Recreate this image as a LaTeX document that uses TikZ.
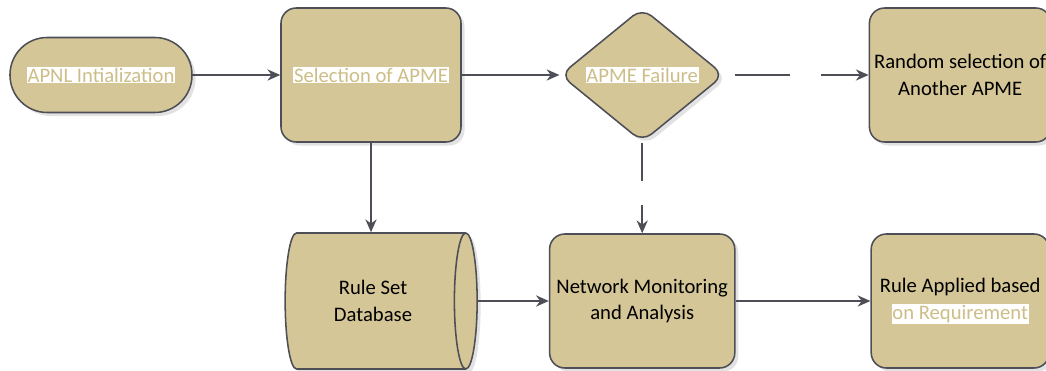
\documentclass[tikz,border=0pt]{standalone}
\usepackage{fontspec}
\setmainfont{Carlito}
\usetikzlibrary{shapes.geometric,arrows.meta,positioning,shadows}

\definecolor{khaki}{RGB}{212,198,150}
\definecolor{edgegray}{RGB}{78,78,86}
\definecolor{paletext}{RGB}{205,190,136}

% pale text on a white strip
\newcommand{\hltext}[1]{{\setlength{\fboxsep}{0.6pt}\colorbox{white}{\textcolor{paletext}{#1}}}}

\tikzstyle{base} = [draw=edgegray, line width=1.1pt, fill=khaki, align=center, font=\fontsize{14.7}{19}\selectfont,
  drop shadow={fill=gray!45, shadow xshift=2.5pt, shadow yshift=-2.5pt}]
\tikzstyle{startstop} = [base, rectangle, rounded corners=.93cm, minimum width=4.55cm, minimum height=1.875cm]
\tikzstyle{process} = [base, rectangle, rounded corners=.38cm, minimum width=4.5cm, minimum height=3.35cm]
\tikzstyle{decision} = [base, diamond, rounded corners=.3cm, inner sep=0pt, aspect=1.25, minimum width=4.1cm, minimum height=3.35cm]
\tikzstyle{store} = [base, cylinder, shape border rotate=0, aspect=0.45, minimum width=3.4cm, minimum height=4.8cm]
\tikzstyle{arrow} = [line width=1.1pt, draw=edgegray, -{Stealth[length=3.2mm,width=2.8mm]}]

\begin{document}
\begin{tikzpicture}
  \useasboundingbox (-2.525,1.875) rectangle (23.625,-7.4);
  \node (start) [startstop] {\hltext{APNL Intialization}};
  \node (select) [process, right of=start, node distance=6.75cm] {\hltext{Selection of APME}};
  \node (fail) [decision, right of=select, node distance=6.78cm] {\hltext{APME Failure}};
  \node (random) [process, right of=fail, node distance=7.95cm, minimum width=4.45cm] {Random selection of\\Another APME};
  \node (rules) [store, below of=select, node distance=5.65cm, xshift=.05cm] {Rule Set\\Database};
  \node (monitor) [process, below of=fail, node distance=5.65cm, minimum width=4.63cm] {Network Monitoring\\and Analysis};
  \node (apply) [process, below of=random, node distance=5.65cm, minimum width=4.45cm] {Rule Applied based\\\hltext{on Requirement}};

  \draw [arrow] (start) -- (select);
  \draw [arrow] (select) -- (fail);
  \draw [arrow, dash pattern=on 0pt off .25cm on 1.375cm off .775cm on 3cm] (fail) -- (random);
  \draw [arrow] (select.south) -- (select.south |- rules.north);
  \draw [arrow, dash pattern=on .95cm off .6cm on 2cm] (fail) -- (monitor);
  \draw [arrow] (rules.east |- monitor.west) -- (monitor);
  \draw [arrow] (monitor) -- (apply);
\end{tikzpicture}
\end{document}
